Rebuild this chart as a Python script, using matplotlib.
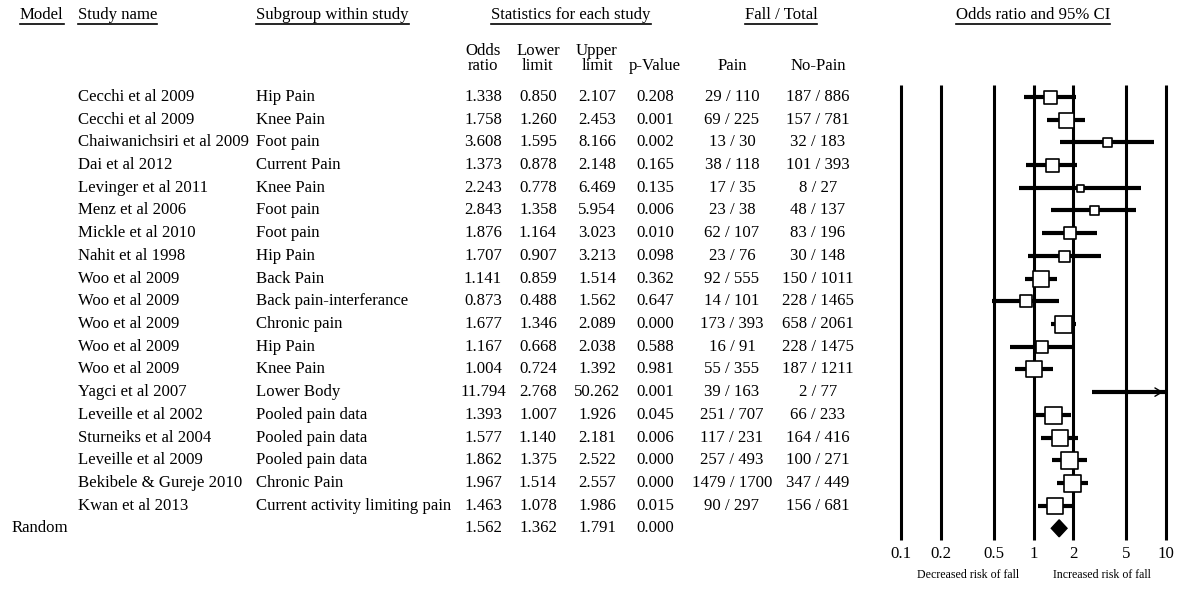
import numpy as np
import matplotlib
matplotlib.use('Agg')
import matplotlib.pyplot as plt

plt.rcParams['font.family'] = ['Liberation Serif', 'DejaVu Serif']

# Datos de los estudios
studies = ['Cecchi et al 2009', 'Cecchi et al 2009', 'Chaiwanichsiri et al 2009',
           'Dai et al 2012', 'Levinger et al 2011', 'Menz et al 2006',
           'Mickle et al 2010', 'Nahit et al 1998', 'Woo et al 2009',
           'Woo et al 2009', 'Woo et al 2009', 'Woo et al 2009', 'Woo et al 2009',
           'Yagci et al 2007', 'Leveille et al 2002', 'Sturneiks et al 2004',
           'Leveille et al 2009', 'Bekibele & Gureje 2010', 'Kwan et al 2013']
subgroups = ['Hip Pain', 'Knee Pain', 'Foot pain', 'Current Pain', 'Knee Pain',
             'Foot pain', 'Foot pain', 'Hip Pain', 'Back Pain',
             'Back pain-interferance', 'Chronic pain', 'Hip Pain', 'Knee Pain',
             'Lower Body', 'Pooled pain data', 'Pooled pain data',
             'Pooled pain data', 'Chronic Pain', 'Current activity limiting pain']
odds = [1.338, 1.758, 3.608, 1.373, 2.243, 2.843, 1.876, 1.707, 1.141, 0.873,
        1.677, 1.167, 1.004, 11.794, 1.393, 1.577, 1.862, 1.967, 1.463]
lower = [0.850, 1.260, 1.595, 0.878, 0.778, 1.358, 1.164, 0.907, 0.859, 0.488,
         1.346, 0.668, 0.724, 2.768, 1.007, 1.140, 1.375, 1.514, 1.078]
upper = [2.107, 2.453, 8.166, 2.148, 6.469, 5.954, 3.023, 3.213, 1.514, 1.562,
         2.089, 2.038, 1.392, 50.262, 1.926, 2.181, 2.522, 2.557, 1.986]
pvals = [0.208, 0.001, 0.002, 0.165, 0.135, 0.006, 0.010, 0.098, 0.362, 0.647,
         0.000, 0.588, 0.981, 0.001, 0.045, 0.006, 0.000, 0.000, 0.015]
pain = ['29 / 110', '69 / 225', '13 / 30', '38 / 118', '17 / 35', '23 / 38',
        '62 / 107', '23 / 76', '92 / 555', '14 / 101', '173 / 393', '16 / 91',
        '55 / 355', '39 / 163', '251 / 707', '117 / 231', '257 / 493',
        '1479 / 1700', '90 / 297']
nopain = ['187 / 886', '157 / 781', '32 / 183', '101 / 393', '8 / 27', '48 / 137',
          '83 / 196', '30 / 148', '150 / 1011', '228 / 1465', '658 / 2061',
          '228 / 1475', '187 / 1211', '2 / 77', '66 / 233', '164 / 416',
          '100 / 271', '347 / 449', '156 / 681']
# peso relativo (tamano de la caja)
weight = [13, 15, 9, 13, 7, 9, 12, 11, 16, 12, 17, 12, 16, 0, 17, 16, 17, 17, 16]

# Modelo aleatorio
pooled = (1.562, 1.362, 1.791, 0.000)

xticks = [0.1, 0.2, 0.5, 1, 2, 5, 10]
xticklabels = ['0.1', '0.2', '0.5', '1', '2', '5', '10']

# Layout (pixeles)
W, H = 1184, 590
y0, dy = 97, 22.7
rows = y0 + dy * np.arange(len(studies))
y_rand = y0 + dy * len(studies)
fs = 12.1

fig = plt.figure(figsize=(W / 100, H / 100), dpi=100)
ax = fig.add_axes([0, 0, 1, 1])
ax.set_xlim(0, W)
ax.set_ylim(H, 0)
ax.axis('off')

def txt(x, y, s, ha='left'):
    return ax.text(x, y, s, ha=ha, va='center', fontsize=fs)

# Encabezados
heads = [txt(20, 15, 'Model'), txt(78, 15, 'Study name'),
         txt(256, 15, 'Subgroup within study'),
         txt(571, 15, 'Statistics for each study', 'center'),
         txt(781, 15, 'Fall / Total', 'center'),
         txt(1033, 15, 'Odds ratio and 95% CI', 'center')]
cols = [483, 538, 597, 655, 732, 818]
txt(cols[0], 51, 'Odds', 'center')
txt(cols[1], 51, 'Lower', 'center')
txt(cols[2], 51, 'Upper', 'center')
for c, s in zip(cols, ['ratio', 'limit', 'limit', 'p-Value', 'Pain', 'No-Pain']):
    txt(c, 66, s, 'center')

for i, y in enumerate(rows):
    txt(78, y, studies[i])
    txt(256, y, subgroups[i])
    txt(cols[0], y, '%.3f' % odds[i], 'center')
    txt(cols[1], y, '%.3f' % lower[i], 'center')
    txt(cols[2], y, '%.3f' % upper[i], 'center')
    txt(cols[3], y, '%.3f' % pvals[i], 'center')
    txt(cols[4], y, pain[i], 'center')
    txt(cols[5], y, nopain[i], 'center')

txt(12, y_rand, 'Random')
for c, v in zip(cols[:4], pooled):
    txt(c, y_rand, '%.3f' % v, 'center')

ax.text(968, 575, 'Decreased risk of fall', ha='center', va='center', fontsize=8.6)
ax.text(1102, 575, 'Increased risk of fall', ha='center', va='center', fontsize=8.6)

# Subrayado de encabezados
fig.canvas.draw()
r = fig.canvas.get_renderer()
for t in heads:
    bb = t.get_window_extent(r)
    yline = H - bb.y0 + 1
    ax.plot([bb.x0, bb.x1], [yline, yline], color='black', lw=1.2)

# Grafica de bosque
top, bot = 85, 540
fa = fig.add_axes([901 / W, (H - bot) / H, (1166 - 901) / W, (bot - top) / H])
fa.set_xscale('log')
fa.set_xlim(0.1, 10)
fa.set_ylim(bot, top)
for s in fa.spines.values():
    s.set_visible(False)
fa.patch.set_alpha(0)
fa.vlines(xticks, top, bot, color='black', lw=2.2, clip_on=False)
fa.set_xticks(xticks)
fa.set_xticklabels(xticklabels, fontsize=fs)
fa.xaxis.set_minor_locator(matplotlib.ticker.NullLocator())
fa.tick_params(axis='x', length=0, pad=4)
fa.set_yticks([])

for i, y in enumerate(rows):
    hi = min(upper[i], 10)
    fa.hlines(y, lower[i], hi, color='black', lw=3, zorder=3, clip_on=False)
    if upper[i] > 10:
        fa.annotate('', xy=(10, y), xytext=(8, y),
                    arrowprops=dict(arrowstyle='->,head_length=0.5,head_width=0.3',
                                    lw=1, color='black'), zorder=4,
                    annotation_clip=False)
    if weight[i] > 0 and odds[i] <= 10:
        fa.scatter(odds[i], y, marker='s', s=(weight[i] * 0.72) ** 2,
                   facecolor='white', edgecolor='black', linewidths=1.2, zorder=5)

orp, lop, upp, _ = pooled
fa.fill([lop, orp, upp, orp], [y_rand, y_rand - 8.5, y_rand, y_rand + 8.5],
        color='black', zorder=5)

fig.savefig('out.png', dpi=100)
